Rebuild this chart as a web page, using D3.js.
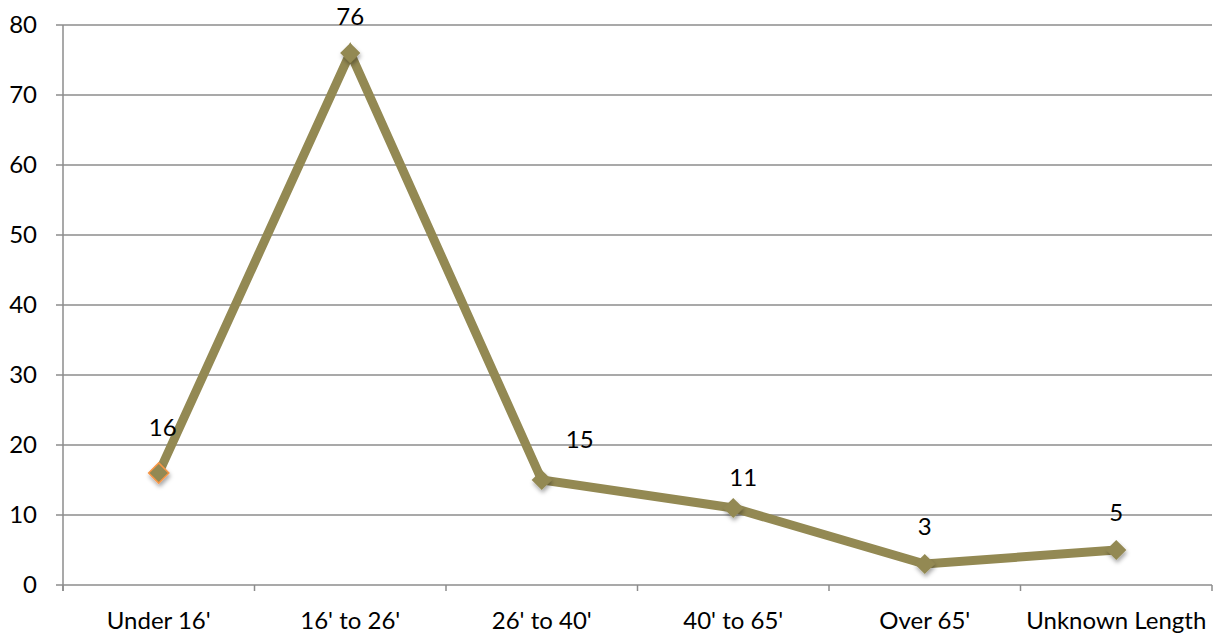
<!DOCTYPE html>
<html><head><meta charset="utf-8">
<script src="https://cdn.jsdelivr.net/npm/d3@7"></script>
<style>body{margin:0;background:#fff}svg{display:block}text{font-family:Lato,"Open Sans",sans-serif;fill:#000}</style>
</head><body><svg id="c" width="1213" height="639"></svg>
<script>
const categories = ["Under 16'", "16' to 26'", "26' to 40'", "40' to 65'", "Over 65'", "Unknown Length"];
const values = [16, 76, 15, 11, 3, 5];
const yTicks = [0, 10, 20, 30, 40, 50, 60, 70, 80];
const labelDx = [4, 0, 38, 10, 0, 0];
const labelDy = [-45, -36, -40, -30, -37, -37];

const svg = d3.select("#c");
const m = {l: 63, r: 1, t: 25, b: 54};
const W = 1213, H = 639;
const FS = 24;
const x = d3.scaleBand().domain(categories).range([m.l, W - m.r]);
const y = d3.scaleLinear().domain([0, 80]).range([H - m.b, m.t]);

const defs = svg.append("defs");
const f = defs.append("filter").attr("id", "sh").attr("x", "-50%").attr("y", "-50%").attr("width", "200%").attr("height", "200%");
f.append("feDropShadow").attr("dx", 1).attr("dy", 3).attr("stdDeviation", 2).attr("flood-color", "#000").attr("flood-opacity", 0.35);

// gridlines
svg.append("g").selectAll("line").data(yTicks).join("line")
  .attr("x1", m.l - 7).attr("x2", W - m.r).attr("y1", d => y(d)).attr("y2", d => y(d))
  .attr("stroke", "#8c8c8c").attr("stroke-width", 1.5);

// y labels
svg.append("g").selectAll("text").data(yTicks).join("text")
  .attr("x", 37).attr("y", d => y(d)).attr("dy", "0.35em").attr("text-anchor", "end")
  .attr("font-size", FS).text(d => d);

// y axis line
svg.append("line").attr("x1", m.l).attr("x2", m.l).attr("y1", m.t).attr("y2", y(0) + 6)
  .attr("stroke", "#8c8c8c").attr("stroke-width", 1.5);

// x ticks at band boundaries
const bounds = categories.map(c => x(c)).concat([x(categories[categories.length-1]) + x.bandwidth()]);
svg.append("g").selectAll("line").data(bounds).join("line")
  .attr("x1", d => d).attr("x2", d => d).attr("y1", y(0)).attr("y2", y(0) + 6)
  .attr("stroke", "#8c8c8c").attr("stroke-width", 1.5);

// x labels
svg.append("g").selectAll("text").data(categories).join("text")
  .attr("x", d => x(d) + x.bandwidth() / 2).attr("y", 629).attr("text-anchor", "middle")
  .attr("font-size", FS).text(d => d);

const cx = (d, i) => x(categories[i]) + x.bandwidth() / 2;
const line = d3.line().x((d, i) => cx(d, i)).y(d => y(d));
svg.append("path").datum(values).attr("d", line).attr("fill", "none")
  .attr("stroke", "#938953").attr("stroke-width", 9).attr("stroke-linejoin", "miter");

const sym = d3.symbol().type(d3.symbolDiamond2).size(260);
svg.append("g").selectAll("path").data(values).join("path")
  .attr("d", sym)
  .attr("transform", (d, i) => `translate(${cx(d, i)},${y(d)})`)
  .attr("fill", "#938953")
  .attr("stroke", (d, i) => i === 0 ? "#f79646" : "none").attr("stroke-width", 1.5)
  .attr("filter", "url(#sh)");

svg.append("g").selectAll("text").data(values).join("text")
  .attr("x", (d, i) => cx(d, i) + labelDx[i]).attr("y", (d, i) => y(d) + labelDy[i])
  .attr("dy", "0.35em").attr("text-anchor", "middle").attr("font-size", FS).text(d => d);
</script></body></html>
